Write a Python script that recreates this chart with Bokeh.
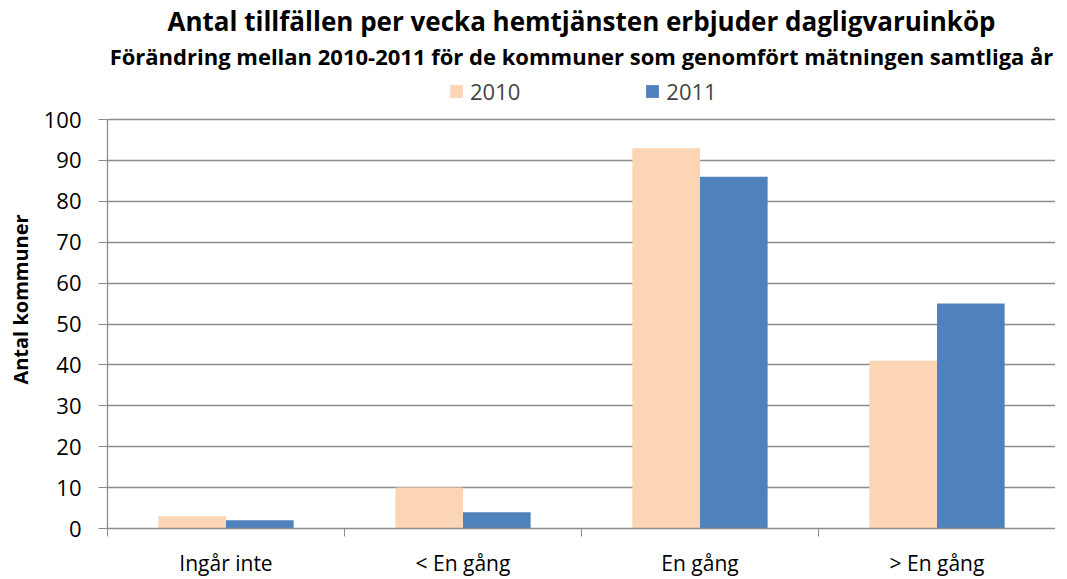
import numpy as np
from bokeh.plotting import figure
from bokeh.models import (ColumnDataSource, Range1d, FixedTicker, Title, Legend, LegendItem)
from bokeh.transform import dodge
from bokeh.embed import file_html
from bokeh.resources import INLINE

categories = ["Ingår inte", "< En gång", "En gång", "> En gång"]
values_2010 = [3, 10, 93, 41]
values_2011 = [2, 4, 86, 55]
y_ticks = list(range(0, 101, 10))

title_text = "Antal tillfällen per vecka hemtjänsten erbjuder dagligvaruinköp"
subtitle_text = "Förändring mellan 2010-2011 för de kommuner som genomfört mätningen samtliga år"
y_label = "Antal kommuner"

FONT = "Open Sans"
GRID = "#8c8c8c"
ORANGE = "#FCD5B5"
BLUE = "#4F81BD"

centers = np.arange(len(categories)) + 0.5
src = ColumnDataSource(dict(x=centers, y2010=values_2010, y2011=values_2011))

# extra head-room above 100 holds the legend (axis line is bounded to 0..100)
p = figure(frame_width=948, frame_height=458, output_backend="svg", toolbar_location=None,
           x_range=Range1d(0, len(categories)), y_range=Range1d(0, 112),
           min_border_left=107, min_border_right=0, min_border_top=60, min_border_bottom=40,
           outline_line_color=None, title=None)

bw = 0.2854
r1 = p.vbar(x=dodge("x", -bw / 2, range=p.x_range), width=bw, top="y2010", source=src,
            fill_color=ORANGE, line_color=None)
r2 = p.vbar(x=dodge("x", bw / 2, range=p.x_range), width=bw, top="y2011", source=src,
            fill_color=BLUE, line_color=None)

# x axis: labels at category centres, boundary ticks as minor ticks
xa = p.xaxis[0]
xa.ticker = FixedTicker(ticks=list(centers), minor_ticks=list(range(len(categories) + 1)))
xa.major_label_overrides = {float(c): lab for c, lab in zip(centers, categories)}
xa.major_tick_out = 0
xa.major_tick_in = 0
xa.minor_tick_out = 8
xa.minor_tick_in = 0
xa.minor_tick_line_color = GRID
xa.axis_line_color = GRID
xa.axis_line_width = 1.3
xa.major_label_text_font = FONT
xa.major_label_text_font_size = "21px"
xa.major_label_text_color = "black"
xa.major_label_standoff = 12

ya = p.yaxis[0]
ya.ticker = FixedTicker(ticks=y_ticks)
ya.bounds = (0, 100)
ya.minor_tick_line_color = None
ya.major_tick_out = 9
ya.major_tick_in = 0
ya.major_tick_line_color = GRID
ya.axis_line_color = GRID
ya.axis_line_width = 1.3
ya.major_label_text_font = FONT
ya.major_label_text_font_size = "22px"
ya.major_label_text_color = "black"
ya.major_label_standoff = 17
ya.axis_label = y_label
ya.axis_label_text_font = FONT
ya.axis_label_text_font_style = "bold"
ya.axis_label_text_font_size = "20px"
ya.axis_label_text_color = "black"
ya.axis_label_standoff = 7

p.xgrid.grid_line_color = None
p.ygrid.grid_line_color = GRID
p.ygrid.grid_line_width = 1.3
p.ygrid.ticker = FixedTicker(ticks=y_ticks)

legend = Legend(items=[LegendItem(label="2010", renderers=[r1]),
                       LegendItem(label="2011", renderers=[r2])],
                orientation="horizontal", location=(341, 422),
                glyph_width=16, glyph_height=16, spacing=124, label_standoff=6,
                label_text_font=FONT, label_text_font_size="22px",
                label_height=16, border_line_color=None, background_fill_alpha=0,
                padding=0, margin=0)
p.add_layout(legend)

p.add_layout(Title(text=subtitle_text, align="center", text_font=FONT, standoff=0,
                   text_font_style="bold", text_font_size="22px", text_color="black"), "above")
p.add_layout(Title(text=title_text, align="center", text_font=FONT, standoff=0,
                   text_font_style="bold", text_font_size="26px", text_color="black"), "above")

open("out.html", "w").write(file_html(p, INLINE))
